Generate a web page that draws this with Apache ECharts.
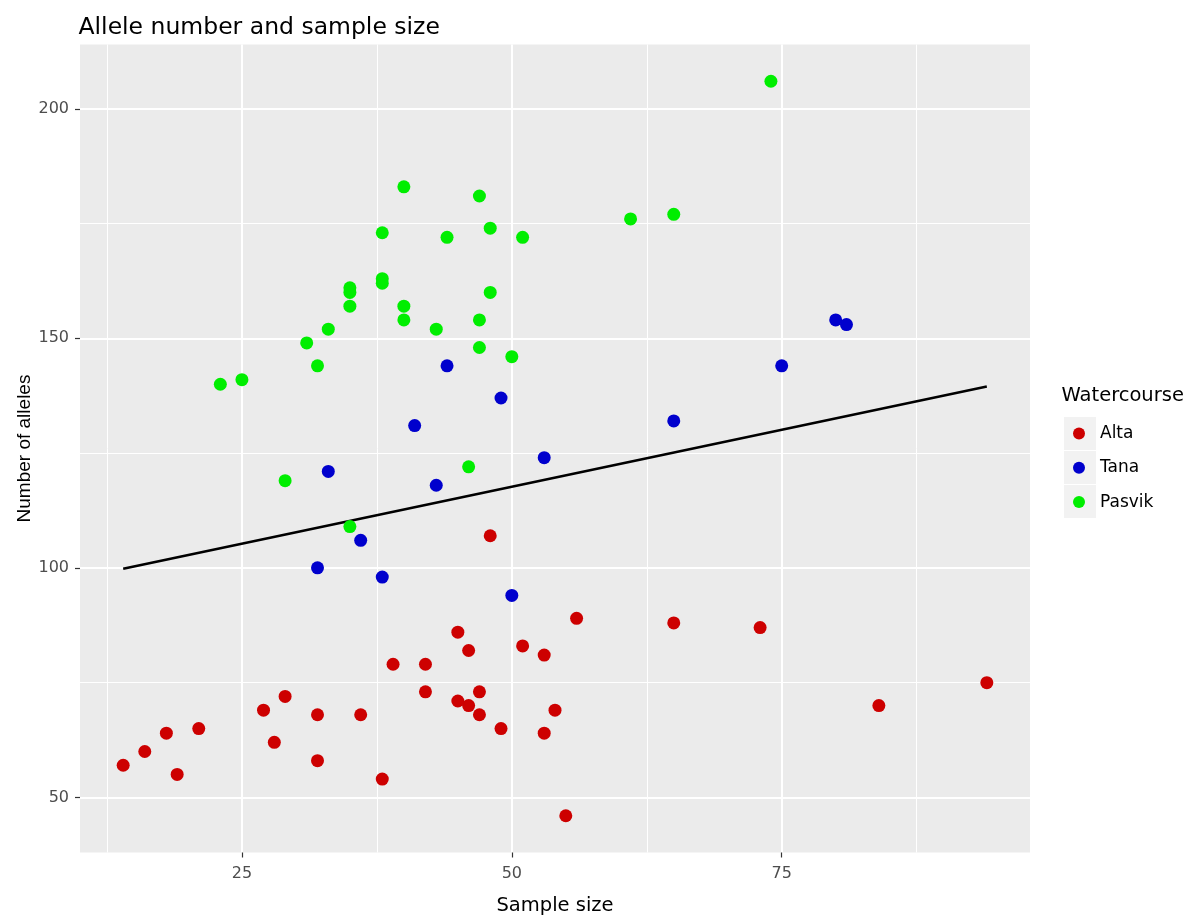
<!DOCTYPE html>
<html>
<head>
<meta charset="utf-8">
<script src="https://cdn.jsdelivr.net/npm/echarts@6/dist/echarts.min.js"></script>
<style>
  html, body { margin: 0; padding: 0; background: #ffffff; overflow: hidden; }
  #chart { width: 1200px; height: 915px; }
</style>
</head>
<body>
<div id="chart"></div>
<script>
// ---- data ----
const seriesNames = ['Alta', 'Tana', 'Pasvik'];

const altaX = [14, 16, 18, 19, 21, 27, 28, 29, 32, 32, 36, 38, 39, 42, 42, 45, 46, 45, 46, 47, 47, 49, 51, 53, 54, 53, 55, 56, 65, 73, 84, 94, 48];
const altaY = [57, 60, 64, 55, 65, 69, 62, 72, 68, 58, 68, 54, 79, 79, 73, 86, 82, 71, 70, 73, 68, 65, 83, 81, 69, 64, 46, 89, 88, 87, 70, 75, 107];

const tanaX = [44, 49, 41, 53, 33, 43, 36, 32, 38, 50, 65, 75, 80, 81];
const tanaY = [144, 137, 131, 124, 121, 118, 106, 100, 98, 94, 132, 144, 154, 153];

const pasvikX = [40, 47, 38, 44, 48, 51, 38, 38, 35, 35, 35, 48, 40, 40, 47, 33, 43, 31, 47, 32, 50, 23, 25, 74, 61, 65, 46, 29, 35];
const pasvikY = [183, 181, 173, 172, 174, 172, 163, 162, 161, 160, 157, 160, 157, 154, 154, 152, 152, 149, 148, 144, 146, 140, 141, 206, 176, 177, 122, 119, 109];

// fitted line (end points)
const fitX = [14, 94];
const fitY = [99.8, 139.5];

// axis ticks
const xTicks = [25, 50, 75];
const xMinorTicks = [12.5, 37.5, 62.5, 87.5];
const yTicks = [50, 100, 150, 200];
const yMinorTicks = [75, 125, 175];

// ---- styling ----
const colors = ['#CD0000', '#0000CD', '#00EE00'];
const FONT_H = 'DejaVu Sans';
const FONT_V = 'Liberation Sans';
const X_MIN = 10, X_MAX = 98, Y_MIN = 38, Y_MAX = 214;

function zip(xs, ys) { return xs.map((x, i) => [x, ys[i]]); }

const chart = echarts.init(document.getElementById('chart'), null, { renderer: 'canvas' });

const majorAxisCommon = {
  type: 'value',
  axisLine: { show: false },
  axisTick: { show: true, length: 5, lineStyle: { color: '#333333', width: 1.2 } },
  splitLine: { show: true, lineStyle: { color: '#ffffff', width: 2 } },
  minorTick: { show: false },
  minorSplitLine: { show: false }
};
const minorAxisCommon = {
  type: 'value',
  axisLine: { show: false },
  axisTick: { show: false },
  axisLabel: { show: false },
  splitLine: { show: true, lineStyle: { color: '#ffffff', width: 1 } }
};

const option = {
  animation: false,
  backgroundColor: '#ffffff',
  title: [
    {
      text: 'Allele number and sample size',
      left: 78.5, top: 16, padding: 0,
      textStyle: { fontFamily: FONT_H, fontSize: 23.5, fontWeight: 'normal', color: '#000000' }
    },
    {
      text: 'Watercourse',
      left: 1061.5, top: 386, padding: 0,
      textStyle: { fontFamily: FONT_H, fontSize: 19.5, fontWeight: 'normal', color: '#000000' }
    }
  ],
  grid: {
    left: 80, top: 44.5, width: 950, height: 808,
    show: true, backgroundColor: '#EBEBEB', borderWidth: 0,
    containLabel: false,
    outerBoundsMode: 'none'
  },
  legend: {
    data: seriesNames,
    orient: 'vertical',
    left: 1068, top: 420,
    itemWidth: 32, itemHeight: 12,
    itemGap: 17.3,
    icon: 'circle',
    textStyle: { fontFamily: FONT_H, fontSize: 17, color: '#000000' },
    selectedMode: false
  },
  graphic: [
    { type: 'rect', left: 1064, top: 417, shape: { width: 32, height: 33 }, style: { fill: '#F2F2F2' }, z: -1 },
    { type: 'rect', left: 1064, top: 451, shape: { width: 32, height: 33 }, style: { fill: '#F2F2F2' }, z: -1 },
    { type: 'rect', left: 1064, top: 485, shape: { width: 32, height: 33 }, style: { fill: '#F2F2F2' }, z: -1 }
  ],
  xAxis: [
    Object.assign({}, majorAxisCommon, {
      min: X_MIN, max: X_MAX, position: 'bottom',
      axisTick: Object.assign({}, majorAxisCommon.axisTick, { customValues: xTicks }),
      axisLabel: { customValues: xTicks, color: '#4D4D4D', fontFamily: FONT_H, fontSize: 16, margin: 13 },
      name: 'Sample size', nameLocation: 'middle', nameGap: 43, nameMoveOverlap: false,
      nameTextStyle: { fontFamily: FONT_H, fontSize: 19.5, color: '#000000' }
    }),
    Object.assign({}, minorAxisCommon, {
      min: X_MIN, max: X_MAX, position: 'bottom',
      axisTick: { show: false, customValues: xMinorTicks }
    })
  ],
  yAxis: [
    Object.assign({}, majorAxisCommon, {
      min: Y_MIN, max: Y_MAX, position: 'left',
      axisTick: Object.assign({}, majorAxisCommon.axisTick, { customValues: yTicks }),
      axisLabel: { customValues: yTicks, color: '#4D4D4D', fontFamily: FONT_H, fontSize: 16, margin: 11 },
      name: 'Number of alleles', nameLocation: 'middle', nameGap: 46, nameRotate: 90, nameMoveOverlap: false,
      nameTextStyle: { fontFamily: FONT_V, fontSize: 19, color: '#000000' }
    }),
    Object.assign({}, minorAxisCommon, {
      min: Y_MIN, max: Y_MAX, position: 'left',
      axisTick: { show: false, customValues: yMinorTicks }
    })
  ],
  series: [
    {
      name: 'Fit', type: 'line', xAxisIndex: 0, yAxisIndex: 0,
      data: zip(fitX, fitY), showSymbol: false, symbol: 'none',
      lineStyle: { color: '#000000', width: 2.6 }, z: 2, silent: true
    },
    {
      name: seriesNames[0], type: 'scatter', xAxisIndex: 0, yAxisIndex: 0,
      data: zip(altaX, altaY), symbol: 'circle', symbolSize: 13,
      itemStyle: { color: colors[0], opacity: 1 }, z: 3
    },
    {
      name: seriesNames[1], type: 'scatter', xAxisIndex: 0, yAxisIndex: 0,
      data: zip(tanaX, tanaY), symbol: 'circle', symbolSize: 13,
      itemStyle: { color: colors[1], opacity: 1 }, z: 3
    },
    {
      name: seriesNames[2], type: 'scatter', xAxisIndex: 0, yAxisIndex: 0,
      data: zip(pasvikX, pasvikY), symbol: 'circle', symbolSize: 13,
      itemStyle: { color: colors[2], opacity: 1 }, z: 3
    }
  ]
};

chart.setOption(option);
</script>
</body>
</html>
